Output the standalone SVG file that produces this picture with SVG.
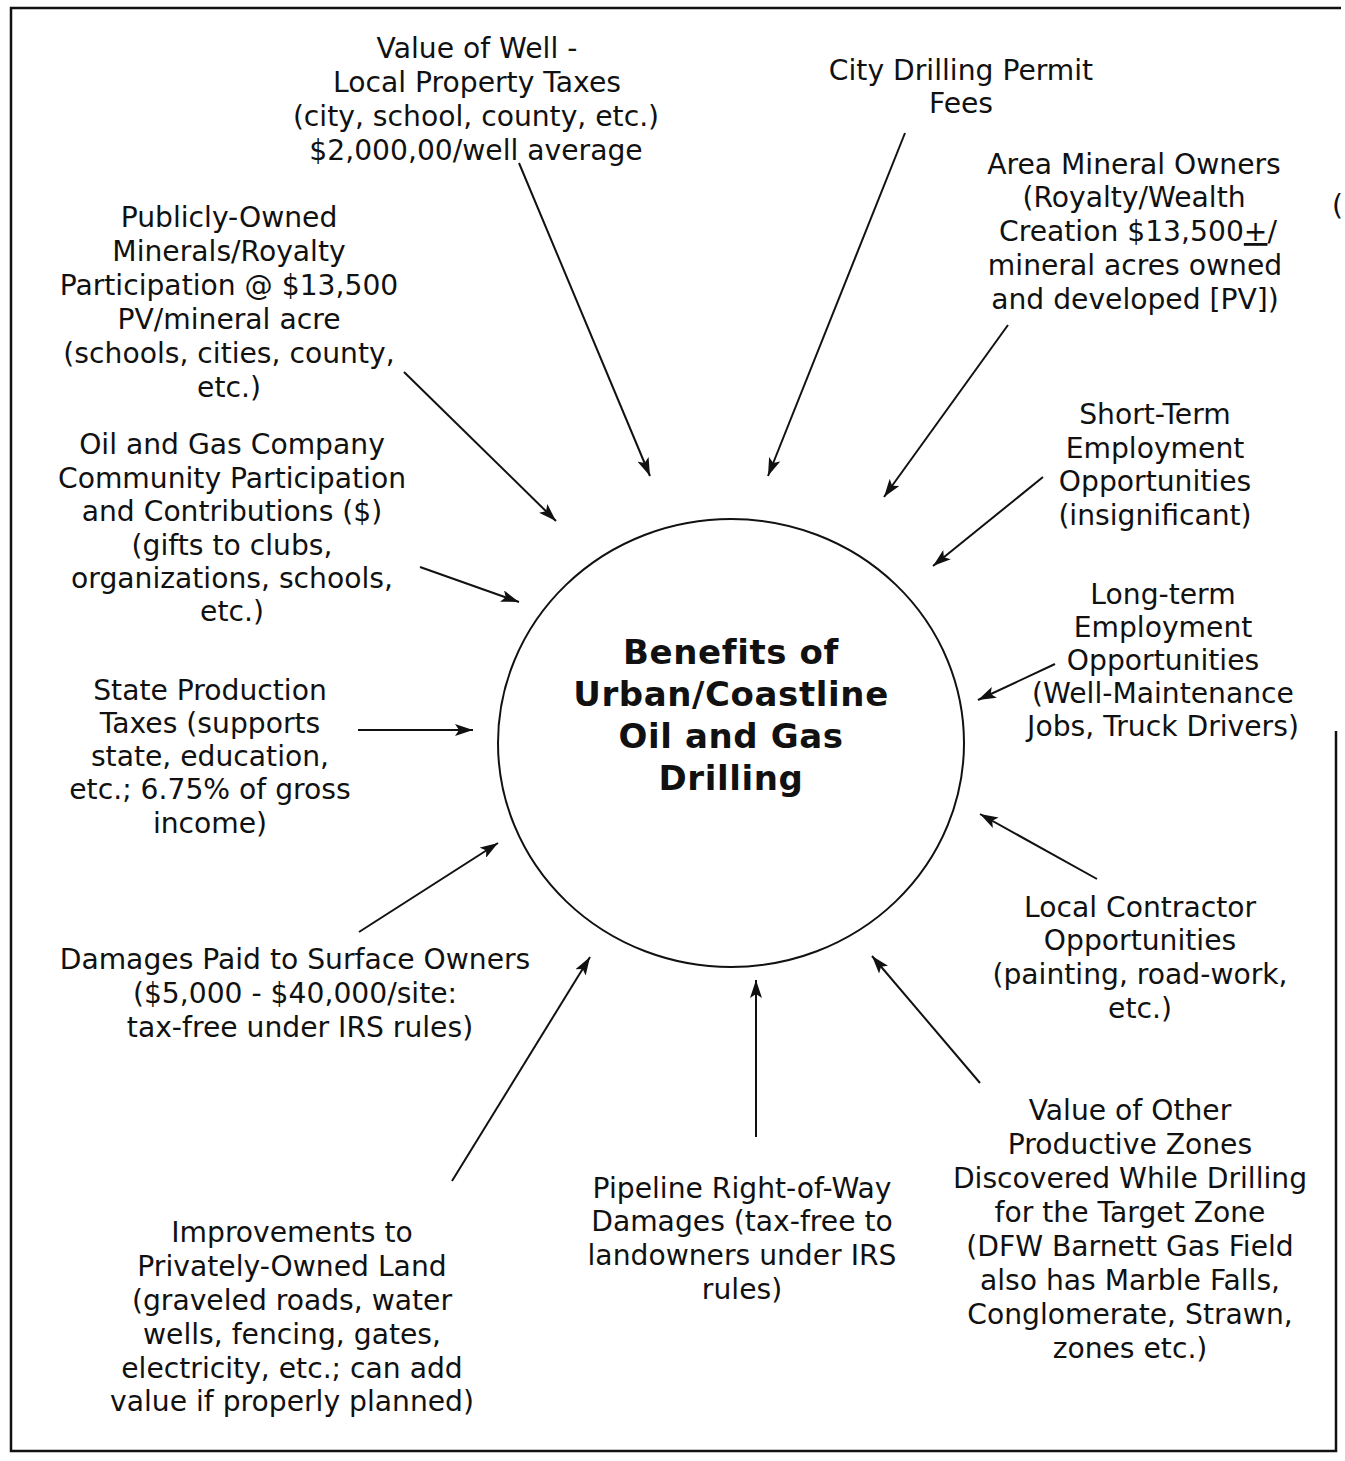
<svg xmlns="http://www.w3.org/2000/svg" width="1345" height="1461" viewBox="0 0 1345 1461">
<style>
text{font-family:"DejaVu Sans","Liberation Sans",sans-serif;font-size:28.2px;fill:#111;text-anchor:middle}
.t{font-weight:bold;font-size:34px;letter-spacing:0.6px}
.c{stroke:#111;stroke-width:2;fill:none;marker-end:url(#ah)}
</style>
<defs>
<marker id="ah" viewBox="0 0 18 12" refX="18" refY="6" markerWidth="18" markerHeight="12" orient="auto" markerUnits="userSpaceOnUse">
<path d="M0,0 L18,6 L0,12 L4,6 Z" fill="#111"/>
</marker>
</defs>
<rect width="1345" height="1461" fill="#fff"/>
<path d="M1341,8 L11,8 L11,1451 L1336,1451 L1336,731" fill="none" stroke="#111" stroke-width="2.5"/>
<text x="1332" y="215" style="text-anchor:start">(</text>

<g id="center">
<ellipse cx="731" cy="743" rx="233" ry="224" fill="none" stroke="#111" stroke-width="2"/>
<text class="t" x="731" y="664">Benefits of</text>
<text class="t" x="731" y="706">Urban/Coastline</text>
<text class="t" x="731" y="748">Oil and Gas</text>
<text class="t" x="731" y="790">Drilling</text>
</g>

<g id="value-of-well">
<text x="477" y="58">Value of Well -</text>
<text x="477" y="92">Local Property Taxes</text>
<text x="476" y="126">(city, school, county, etc.)</text>
<text x="476" y="160">$2,000,00/well average</text>
</g>

<g id="city-permit">
<text x="961" y="80">City Drilling Permit</text>
<text x="961" y="113">Fees</text>
</g>

<g id="area-mineral">
<text x="1134" y="174">Area Mineral Owners</text>
<text x="1134" y="207">(Royalty/Wealth</text>
<text x="1138" y="241">Creation $13,500<tspan text-decoration="underline">+</tspan>/</text>
<text x="1135" y="275">mineral acres owned</text>
<text x="1135" y="309">and developed [PV])</text>
</g>

<g id="publicly-owned">
<text x="229" y="227">Publicly-Owned</text>
<text x="229" y="261">Minerals/Royalty</text>
<text x="229" y="295">Participation @ $13,500</text>
<text x="229" y="329">PV/mineral acre</text>
<text x="229" y="363">(schools, cities, county,</text>
<text x="229" y="397">etc.)</text>
</g>

<g id="short-term">
<text x="1155" y="424">Short-Term</text>
<text x="1155" y="458">Employment</text>
<text x="1155" y="491">Opportunities</text>
<text x="1155" y="525">(insignificant)</text>
</g>

<g id="company">
<text x="232" y="454">Oil and Gas Company</text>
<text x="232" y="488">Community Participation</text>
<text x="232" y="521">and Contributions ($)</text>
<text x="232" y="555">(gifts to clubs,</text>
<text x="232" y="588">organizations, schools,</text>
<text x="232" y="621">etc.)</text>
</g>

<g id="long-term">
<text x="1163" y="604">Long-term</text>
<text x="1163" y="637">Employment</text>
<text x="1163" y="670">Opportunities</text>
<text x="1163" y="703">(Well-Maintenance</text>
<text x="1163" y="736">Jobs, Truck Drivers)</text>
</g>

<g id="state-taxes">
<text x="210" y="700">State Production</text>
<text x="210" y="733">Taxes (supports</text>
<text x="210" y="766">state, education,</text>
<text x="210" y="799">etc.; 6.75% of gross</text>
<text x="210" y="833">income)</text>
</g>

<g id="damages">
<text x="295" y="969">Damages Paid to Surface Owners</text>
<text x="295" y="1003">($5,000 - $40,000/site:</text>
<text x="300" y="1037">tax-free under IRS rules)</text>
</g>

<g id="local-contractor">
<text x="1140" y="917">Local Contractor</text>
<text x="1140" y="950">Opportunities</text>
<text x="1140" y="984">(painting, road-work,</text>
<text x="1140" y="1018">etc.)</text>
</g>

<g id="other-zones">
<text x="1130" y="1120">Value of Other</text>
<text x="1130" y="1154">Productive Zones</text>
<text x="1130" y="1188">Discovered While Drilling</text>
<text x="1130" y="1222">for the Target Zone</text>
<text x="1130" y="1256">(DFW Barnett Gas Field</text>
<text x="1130" y="1290">also has Marble Falls,</text>
<text x="1130" y="1324">Conglomerate, Strawn,</text>
<text x="1130" y="1358">zones etc.)</text>
</g>

<g id="pipeline">
<text x="742" y="1198">Pipeline Right-of-Way</text>
<text x="742" y="1231">Damages (tax-free to</text>
<text x="742" y="1265">landowners under IRS</text>
<text x="742" y="1299">rules)</text>
</g>

<g id="improvements">
<text x="292" y="1242">Improvements to</text>
<text x="292" y="1276">Privately-Owned Land</text>
<text x="292" y="1310">(graveled roads, water</text>
<text x="292" y="1344">wells, fencing, gates,</text>
<text x="292" y="1378">electricity, etc.; can add</text>
<text x="292" y="1411">value if properly planned)</text>
</g>

<g id="connectors">
<line class="c" x1="519" y1="163" x2="650" y2="476"/>
<line class="c" x1="905" y1="133" x2="768" y2="476"/>
<line class="c" x1="1008" y1="325" x2="884" y2="497"/>
<line class="c" x1="404" y1="372" x2="556" y2="521"/>
<line class="c" x1="1043" y1="477" x2="933" y2="566"/>
<line class="c" x1="420" y1="567" x2="519" y2="602"/>
<line class="c" x1="1055" y1="664" x2="978" y2="700"/>
<line class="c" x1="358" y1="730" x2="473" y2="730"/>
<line class="c" x1="359" y1="932" x2="498" y2="843"/>
<line class="c" x1="1097" y1="879" x2="980" y2="814"/>
<line class="c" x1="452" y1="1181" x2="590" y2="957"/>
<line class="c" x1="756" y1="1137" x2="756" y2="980"/>
<line class="c" x1="980" y1="1083" x2="872" y2="956"/>
</g>
</svg>
